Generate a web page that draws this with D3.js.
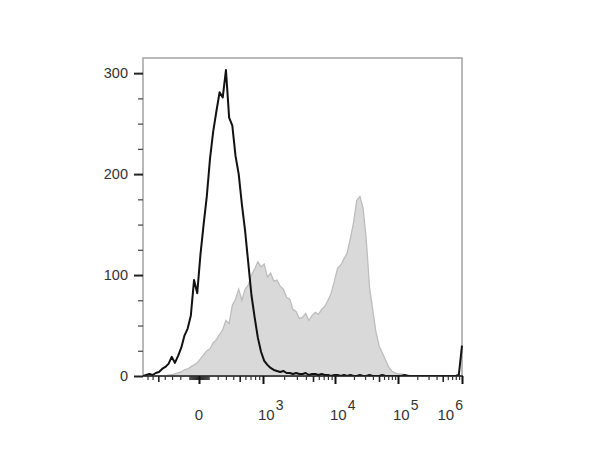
<!DOCTYPE html>
<html>
<head>
<meta charset="utf-8">
<script src="https://cdn.jsdelivr.net/npm/d3@7"></script>
<style>
  html, body { margin: 0; padding: 0; background: #fff; }
  svg { display: block; }
  text { font-family: "Liberation Sans", Arial, sans-serif; fill: #333; }
</style>
</head>
<body>
<svg id="chart" width="600" height="462"></svg>
<script>
// ---- data (counts per display channel bin, 101 bins across the x range) ----
const controlCounts = [
  0,1,2,1,3,4,7,9,12,19,
  13,20,28,40,47,60,95,82,120,150,
  178,215,242,262,281,276,303,256,248,218,
  200,170,144,112,80,58,38,24,15,11,
  8,6,5,4,5,3,3,2,3,2,
  2,3,1,2,2,1,2,1,1,0,
  1,1,0,1,0,1,0,0,1,0,
  0,1,0,0,0,1,0,0,0,0,
  0,0,1,0,0,0,0,0,0,0,
  0,0,0,0,0,0,0,0,0,1,
  30
];
const stainedCounts = [
  0,0,0,0,0,0,0,0,1,1,
  2,3,4,6,7,9,11,13,17,21,
  25,27,33,36,41,46,55,52,70,76,
  86,75,86,90,100,106,113,108,111,98,
  102,94,95,89,86,78,76,66,64,57,
  58,62,55,60,63,61,66,69,75,82,
  94,107,110,116,122,136,152,174,178,166,
  135,88,66,44,30,23,16,9,5,3,
  2,2,1,1,0,0,0,0,0,0,
  0,0,0,0,0,0,0,0,0,0,
  0
];
const yMajorTicks = [0, 100, 200, 300];
const yMinorTicks = [25, 50, 75, 125, 150, 175, 225, 250, 275];
const xLabelValues = [0, 1e3, 1e4, 1e5, 1e6];
const xLabelExponents = [null, 3, 4, 5, 6];
const xMinorMultipliers = [1,2,3,4,5,6,7,8,9];

// ---- layout ----
const L = 143, R = 462, T0 = 58, B = 376;
const svg = d3.select("#chart");

// biexponential-like display transform (decades)
const W = 400;
const tf = v => Math.asinh(v / W) / Math.LN10;
const xMin = -798;

// value axis scale (piecewise on transformed values)
const xv = d3.scaleLinear()
  .domain([tf(xMin), tf(0), tf(1e3), tf(1e4), tf(1e5), tf(1e6)])
  .range([L, 199, 263, 335, 398, R]);
const xVal = v => xv(tf(v));

// channel scale for histogram bins
const x = d3.scaleLinear().domain([0, controlCounts.length - 1]).range([L, R]);
const y = d3.scaleLinear().domain([0, 315]).range([B, T0]);

svg.append("clipPath").attr("id", "clip")
  .append("rect").attr("x", L).attr("y", T0).attr("width", R - L + 1).attr("height", B - T0);

// frame
svg.append("rect")
  .attr("x", L).attr("y", T0).attr("width", R - L).attr("height", B - T0)
  .attr("fill", "none").attr("stroke", "#a8a8a8").attr("stroke-width", 1.6);

const plot = svg.append("g").attr("clip-path", "url(#clip)");

// stained (grey filled)
plot.append("path")
  .datum(stainedCounts)
  .attr("d", d3.area().x((d, i) => x(i)).y0(y(0)).y1(d => y(d)))
  .attr("fill", "#d9d9d9")
  .attr("stroke", "#bdbdbd")
  .attr("stroke-width", 1.3);

// control (black line)
plot.append("path")
  .datum(controlCounts)
  .attr("d", d3.line().x((d, i) => x(i)).y(d => y(d)))
  .attr("fill", "none")
  .attr("stroke", "#111")
  .attr("stroke-width", 2)
  .attr("stroke-linejoin", "round");

// bottom axis line
svg.append("line")
  .attr("x1", L).attr("x2", R + 1).attr("y1", B).attr("y2", B)
  .attr("stroke", "#222").attr("stroke-width", 1.6);

// y axis ticks
const yMajor = svg.append("g").attr("transform", `translate(${L},0)`)
  .call(d3.axisLeft(y).tickValues(yMajorTicks).tickSize(9).tickPadding(6));
yMajor.select(".domain").remove();
yMajor.selectAll(".tick line").attr("stroke", "#222").attr("stroke-width", 2);
yMajor.selectAll(".tick text")
  .style("font-size", "14.5px")
  .style("font-family", '"Liberation Sans", Arial, sans-serif')
  .attr("fill", "#333");

const yMinor = svg.append("g").attr("transform", `translate(${L},0)`)
  .call(d3.axisLeft(y).tickValues(yMinorTicks).tickSize(5).tickFormat(""));
yMinor.select(".domain").remove();
yMinor.selectAll(".tick line").attr("stroke", "#444").attr("stroke-width", 1.2);

// x axis ticks
const minorVals = [];
[10, 100, 1000, 10000, 100000].forEach(dec => {
  xMinorMultipliers.forEach(m => {
    const v = m * dec;
    if (xLabelValues.indexOf(v) < 0) {
      minorVals.push(v);
      if (dec <= 100 && -v >= xMin) minorVals.push(-v);
    }
  });
});
const fiveVals = minorVals.filter(v => Math.abs(v) / Math.pow(10, Math.floor(Math.log10(Math.abs(v)))) === 5 && Math.abs(v) >= 500);
const smallVals = minorVals.filter(v => fiveVals.indexOf(v) < 0);

const xMinorAx = d3.axisBottom(xv).tickValues(smallVals.map(tf)).tickSize(4).tickFormat("");
const gMinor = svg.append("g").attr("transform", `translate(0,${B})`).call(xMinorAx);
gMinor.select(".domain").remove();
gMinor.selectAll(".tick line").attr("stroke", "#333").attr("stroke-width", 1.2);

const xFiveAx = d3.axisBottom(xv).tickValues(fiveVals.map(tf)).tickSize(6).tickFormat("");
const gFive = svg.append("g").attr("transform", `translate(0,${B})`).call(xFiveAx);
gFive.select(".domain").remove();
gFive.selectAll(".tick line").attr("stroke", "#222").attr("stroke-width", 1.6);

const xMajorAx = d3.axisBottom(xv).tickValues(xLabelValues.map(tf)).tickSize(8).tickFormat("");
const gMajor = svg.append("g").attr("transform", `translate(0,${B})`).call(xMajorAx);
gMajor.select(".domain").remove();
gMajor.selectAll(".tick line").attr("stroke", "#111").attr("stroke-width", 2);

// x labels
const labels = svg.append("g");
xLabelValues.forEach((v, i) => {
  const px = xVal(v);
  const exp = xLabelExponents[i];
  const last = i === xLabelValues.length - 1;
  const t = labels.append("text")
    .attr("y", 420)
    .style("font-size", "15px");
  if (exp === null) {
    t.attr("x", px).attr("text-anchor", "middle").text("0");
  } else {
    t.attr("x", last ? px + 1 : px - 5).attr("text-anchor", last ? "end" : "start");
    t.append("tspan").text("10");
    t.append("tspan").attr("dy", -10).attr("dx", 1).style("font-size", "14px").text(String(exp));
  }
});
</script>
</body>
</html>
